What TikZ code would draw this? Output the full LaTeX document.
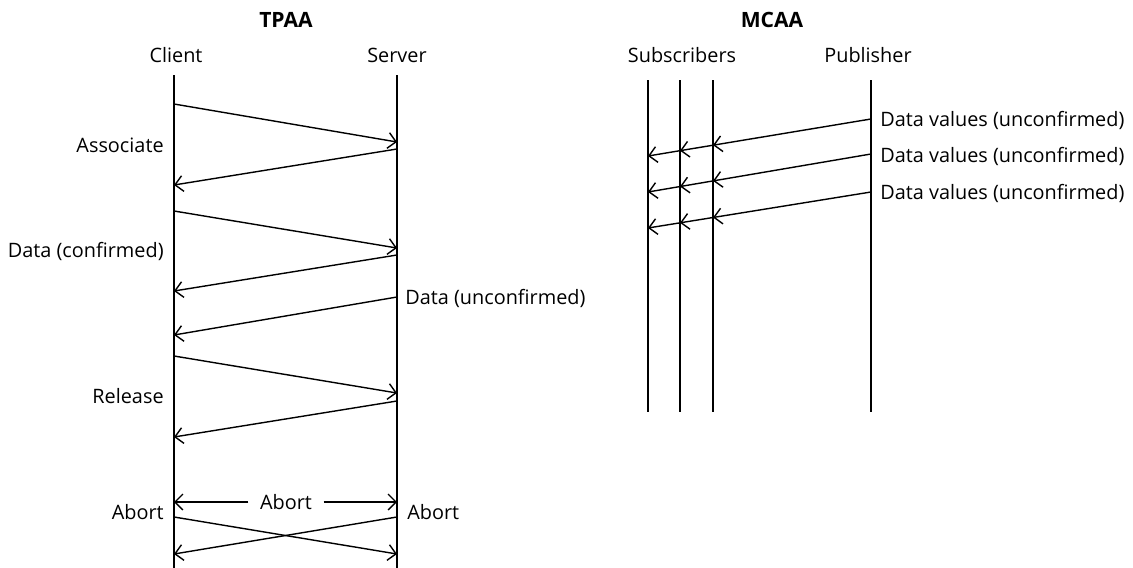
\documentclass[tikz,border=0pt]{standalone}
\usepackage{fontspec}
\setmainfont{Open Sans}
\usetikzlibrary{arrows.meta,calc}
\begin{document}
\begin{tikzpicture}[x=0.02cm,y=-0.02cm,
  lbl/.style={font=\fontsize{11.3}{13}\selectfont, inner sep=0pt},
  ttl/.style={inner sep=0pt, font=\fontsize{12}{14}\selectfont\bfseries},
  life/.style={line width=0.9pt},
  msg/.style={line width=0.8pt, -{Straight Barb[length=4.5pt,width=9pt]}}]
\useasboundingbox (0,0) rectangle (1133,568);

% ---------------- TPAA: client / server ----------------
\node[ttl, anchor=base] (tpaa) at (286,28) {TPAA};
\node[lbl, anchor=base] (client) at (176,62) {Client};
\node[lbl, anchor=base] (server) at (397,62) {Server};

\coordinate (cT) at (174,75);  \coordinate (cB) at (174,568);
\coordinate (sT) at (397,75);  \coordinate (sB) at (397,568);
\draw[life] (cT) -- (cB);
\draw[life] (sT) -- (sB);

% message end points
\coordinate (c1) at (174,104); \coordinate (s1) at (397,142);
\coordinate (s2) at (397,149); \coordinate (c2) at (174,185);
\coordinate (c3) at (174,211); \coordinate (s3) at (397,248);
\coordinate (s4) at (397,255); \coordinate (c4) at (174,291);
\coordinate (s5) at (397,297); \coordinate (c5) at (174,335);
\coordinate (c6) at (174,356); \coordinate (s6) at (397,393);
\coordinate (s7) at (397,401); \coordinate (c7) at (174,437);
\coordinate (c8) at (174,517); \coordinate (s8) at (397,554);
\coordinate (s9) at (397,517); \coordinate (c9) at (174,554);
\coordinate (ab) at (286,502);

\draw[msg] (c1) -- (s1);
\draw[msg] (s2) -- (c2);
\draw[msg] (c3) -- (s3);
\draw[msg] (s4) -- (c4);
\draw[msg] (s5) -- (c5);
\draw[msg] (c6) -- (s6);
\draw[msg] (s7) -- (c7);
\draw[msg] (c8) -- (s8);
\draw[msg] (s9) -- (c9);

\node[lbl, anchor=base east] (assoc) at (164,152) {Associate};
\node[lbl, anchor=base east] (dconf) at (164,257) {Data (confirmed)};
\node[lbl, anchor=base west] (dunconf) at (405,304) {Data (unconfirmed)};
\node[lbl, anchor=base east] (release) at (164,403) {Release};
\node[lbl, anchor=base east] (abortc) at (164,519) {Abort};
\node[lbl, anchor=base west] (aborts) at (407,519) {Abort};
\node[lbl, inner xsep=6.5pt, anchor=base] (abortm) at (286,509) {Abort};
\draw[msg] (abortm.west|-ab) -- (cT|-ab);
\draw[msg] (abortm.east|-ab) -- (sT|-ab);

% ---------------- MCAA: subscribers / publisher ----------------
\node[ttl, anchor=base] (mcaa) at (772,28) {MCAA};
\node[lbl, anchor=base] (subs) at (682,62) {Subscribers};
\node[lbl, anchor=base] (pub) at (868,62) {Publisher};

\coordinate (aT) at (648,80); \coordinate (aB) at (648,412);
\coordinate (bT) at (680,80); \coordinate (bB) at (680,412);
\coordinate (dT) at (713,80); \coordinate (dB) at (713,412);
\coordinate (pT) at (871,80); \coordinate (pB) at (871,412);
\foreach \t/\b in {aT/aB,bT/bB,dT/dB,pT/pB}
  \draw[life] (\t) -- (\b);

\foreach \i/\ys/\ye in {1/119/156, 2/154/192, 3/192/228}{
  \coordinate (p\i) at (871,\ys);
  \coordinate (q\i) at (648,\ye);
  \coordinate (m\i d) at ($(p\i)!0.7085!(q\i)$);
  \coordinate (m\i b) at ($(p\i)!0.8565!(q\i)$);
  \draw[msg] (p\i) -- (m\i d);
  \draw[msg] (m\i d) -- (m\i b);
  \draw[msg] (m\i b) -- (q\i);
}

\node[lbl, anchor=base west] (dv1) at (880,126) {Data values (unconfirmed)};
\node[lbl, anchor=base west] (dv2) at (880,162) {Data values (unconfirmed)};
\node[lbl, anchor=base west] (dv3) at (880,199) {Data values (unconfirmed)};
\end{tikzpicture}
\end{document}
